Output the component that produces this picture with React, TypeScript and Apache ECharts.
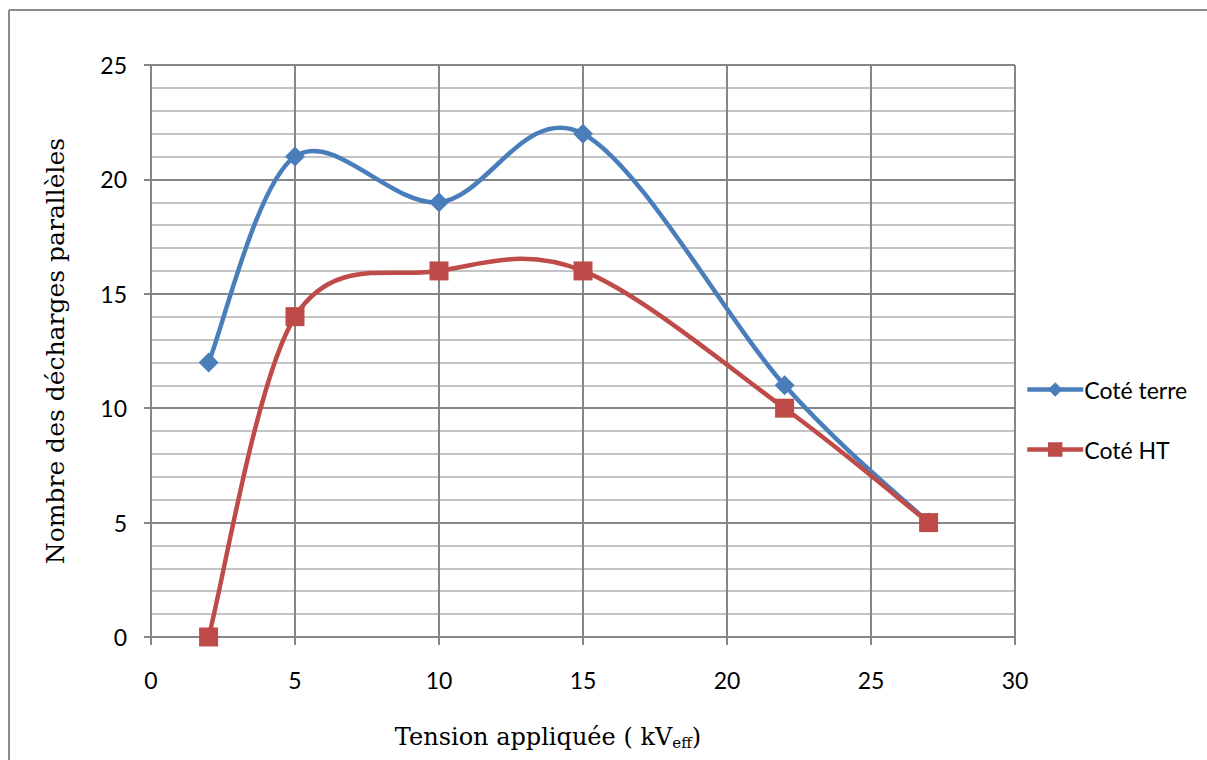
import React, { useEffect, useRef } from "react";
import * as echarts from "echarts";

const xTension = [2, 5, 10, 15, 22, 27];
const coteTerre = [12, 21, 19, 22, 11, 5];
const coteHT = [0, 14, 16, 16, 10, 5];
const seriesNames = ["Coté terre", "Coté HT"];
const seriesColors = ["#4A7EBB", "#BE4B48"];
const yTitle = "Nombre des décharges parallèles";

function curveSeries(name: string, ys: number[], color: string) {
  return {
    name,
    type: "custom",
    z: 2,
    data: xTension.map((x, i) => [x, ys[i]]),
    renderItem: (params: any, api: any) => {
      const i = params.dataIndex;
      const n = xTension.length;
      if (i >= n - 1) return { type: "group", children: [] };
      const pt = (k: number) => {
        const kk = Math.max(0, Math.min(n - 1, k));
        return api.coord([xTension[kk], ys[kk]]);
      };
      const p0 = pt(i - 1);
      const p1 = pt(i);
      const p2 = pt(i + 1);
      const p3 = pt(i + 2);
      return {
        type: "bezierCurve",
        shape: {
          x1: p1[0],
          y1: p1[1],
          x2: p2[0],
          y2: p2[1],
          cpx1: p1[0] + (p2[0] - p0[0]) / 6,
          cpy1: p1[1] + (p2[1] - p0[1]) / 6,
          cpx2: p2[0] - (p3[0] - p1[0]) / 6,
          cpy2: p2[1] - (p3[1] - p1[1]) / 6,
        },
        style: { stroke: color, lineWidth: 4.5, fill: "none", lineCap: "round" },
      };
    },
  };
}

export default function App() {
  const ref = useRef<HTMLDivElement>(null);
  useEffect(() => {
    document.body.style.margin = "0";
    const chart = echarts.init(ref.current!, null, { renderer: "svg" });
    const labelFont = "Lato, 'Open Sans', sans-serif";
    const serif = "'DejaVu Serif', serif";
    chart.setOption({
      animation: false,
      backgroundColor: "#ffffff",
      grid: { left: 151, right: 192, top: 65, bottom: 123, containLabel: false },
      xAxis: {
        type: "value",
        min: 0,
        max: 30,
        interval: 5,
        axisLine: { show: true, lineStyle: { color: "#868686", width: 2 } },
        axisTick: { show: true, length: 8, inside: false, lineStyle: { color: "#868686", width: 2 } },
        axisLabel: { margin: 31, fontSize: 23, color: "#000", fontFamily: labelFont },
        splitLine: { show: true, lineStyle: { color: "#868686", width: 2 } },
      },
      yAxis: {
        type: "value",
        min: 0,
        max: 25,
        interval: 5,
        axisLine: { show: true, lineStyle: { color: "#868686", width: 2 } },
        axisTick: { show: true, length: 7, lineStyle: { color: "#868686", width: 2 } },
        axisLabel: { margin: 24, fontSize: 23, color: "#000", fontFamily: labelFont },
        splitLine: { show: true, lineStyle: { color: "#868686", width: 2 } },
        minorTick: { show: false, splitNumber: 5 },
        minorSplitLine: { show: true, lineStyle: { color: "#c4c4c4", width: 2 } },
      },
      legend: {
        orient: "vertical",
        left: 1025,
        top: 378,
        padding: 0,
        itemWidth: 56,
        itemHeight: 18,
        itemGap: 37,
        textStyle: { fontSize: 23, color: "#000", fontFamily: labelFont, padding: [0, 0, 0, -4] },
        data: seriesNames.map((name, i) => ({
          name,
          lineStyle: { width: 4.5, color: seriesColors[i], opacity: 1 },
        })),
      },
      series: [
        curveSeries("curve-terre", coteTerre, seriesColors[0]),
        curveSeries("curve-ht", coteHT, seriesColors[1]),
        {
          name: seriesNames[0],
          type: "line",
          z: 3,
          data: xTension.map((x, i) => [x, coteTerre[i]]),
          symbol: "diamond",
          symbolSize: 20,
          itemStyle: { color: seriesColors[0] },
          lineStyle: { color: seriesColors[0], width: 4.5, opacity: 0 },
        },
        {
          name: seriesNames[1],
          type: "line",
          z: 3,
          data: xTension.map((x, i) => [x, coteHT[i]]),
          symbol: "rect",
          symbolSize: 19,
          itemStyle: { color: seriesColors[1] },
          lineStyle: { color: seriesColors[1], width: 4.5, opacity: 0 },
        },
      ],
      graphic: [
        {
          type: "line",
          shape: { x1: 9, y1: 10, x2: 9, y2: 760 },
          style: { stroke: "#8c8c8c", lineWidth: 2 },
        },
        {
          type: "line",
          shape: { x1: 9, y1: 10, x2: 1207, y2: 10 },
          style: { stroke: "#8c8c8c", lineWidth: 2 },
        },
        {
          type: "text",
          x: 55,
          y: 351,
          rotation: Math.PI / 2,
          style: {
            text: yTitle,
            font: `25px ${serif}`,
            fill: "#000",
            align: "center",
            verticalAlign: "middle",
          },
        },
        {
          type: "text",
          x: 548,
          y: 737,
          style: {
            text: "{a|Tension appliquée ( kV}{s|eff}{a|)}",
            fill: "#000",
            align: "center",
            verticalAlign: "middle",
            rich: {
              a: { fontFamily: serif, fontSize: 24, fill: "#000", color: "#000" },
              s: { fontFamily: serif, fontSize: 15, fill: "#000", color: "#000", padding: [12, 0, 0, 0] },
            },
          },
        },
      ],
    });
    return () => chart.dispose();
  }, []);
  return <div ref={ref} style={{ width: 1207, height: 760 }} />;
}
